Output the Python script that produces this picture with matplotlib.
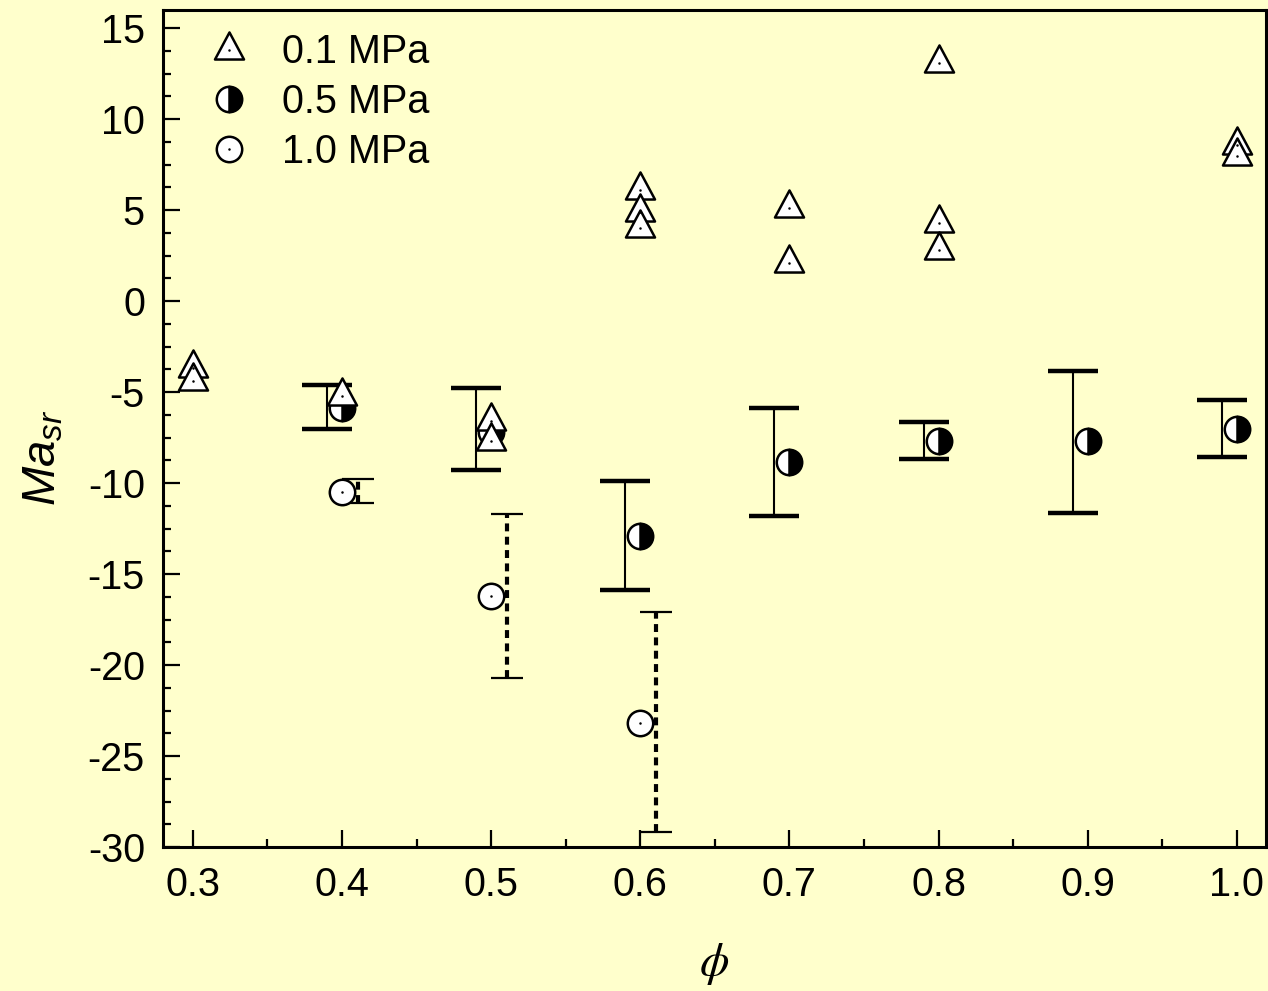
import numpy as np
import matplotlib
matplotlib.use('Agg')
import matplotlib.pyplot as plt
from matplotlib.path import Path
from matplotlib.ticker import MultipleLocator
from matplotlib.legend_handler import HandlerTuple

plt.rcParams['font.family'] = ['Liberation Sans', 'DejaVu Sans']
plt.rcParams['axes.unicode_minus'] = False
plt.rcParams['mathtext.fontset'] = 'custom'
plt.rcParams['mathtext.rm'] = 'Liberation Sans'
plt.rcParams['mathtext.it'] = 'Liberation Sans:italic'

# 0.1 MPa
phi_01 = [0.3, 0.3, 0.4, 0.5, 0.5, 0.6, 0.6, 0.6, 0.7, 0.7, 0.8, 0.8, 0.8, 1.0, 1.0]
ma_01 = [-3.7, -4.4, -5.2, -6.6, -7.7, 6.1, 4.9, 4.0, 5.1, 2.1, 13.1, 4.3, 2.8, 8.6, 8.0]

# 0.5 MPa
phi_05 = [0.4, 0.5, 0.6, 0.7, 0.8, 0.9, 1.0]
ma_05 = [-5.9, -7.2, -12.9, -8.85, -7.7, -7.7, -7.0]
hi_05 = [-4.6, -4.8, -9.9, -5.9, -6.65, -3.85, -5.45]
lo_05 = [-7.0, -9.3, -15.9, -11.8, -8.7, -11.65, -8.55]

# 1.0 MPa
phi_10 = [0.4, 0.5, 0.6]
ma_10 = [-10.5, -16.2, -23.2]
hi_10 = [-9.8, -11.7, -17.1]
lo_10 = [-11.1, -20.7, -29.2]

bg = '#FFFFCC'
fig = plt.figure(figsize=(12.68, 9.91), dpi=100, facecolor=bg)
ax = fig.add_axes([0.1285, 0.1453, 0.8699, 0.8446])
ax.set_facecolor(bg)

# triangle with centroid at the data point
tri = Path([(0, 2 / 3), (-0.536, -1 / 3), (0.536, -1 / 3), (0, 2 / 3)], closed=True)

# error bars, shifted a bit from the points
def draw_err(x, hi, lo, dx, dashed):
    x = np.array(x) + dx
    hi = np.array(hi)
    lo = np.array(lo)
    mid = (hi + lo) / 2
    if dashed:
        eb = ax.errorbar(x, mid, yerr=(hi - lo) / 2, fmt='none', ecolor='black',
                         elinewidth=3.0, capsize=11.5, capthick=1.6, zorder=2)
        eb[2][0].set_linestyle((0, (1.9, 1.3)))
        eb[2][0].set_linewidth(3.0)
    else:
        eb = ax.errorbar(x, mid, yerr=(hi - lo) / 2, fmt='none', ecolor='black',
                         elinewidth=1.5, capsize=18, capthick=3.2, zorder=2)

draw_err(phi_05, hi_05, lo_05, -0.01, False)
draw_err(phi_10, hi_10, lo_10, 0.0105, True)

l05, = ax.plot(phi_05, ma_05, linestyle='none', marker='o', ms=18.3, mew=1.8,
               mec='black', fillstyle='right', mfc='black', mfcalt='white', zorder=3)
l10, = ax.plot(phi_10, ma_10, linestyle='none', marker='o', ms=18.3, mew=1.8,
               mec='black', mfc='white', zorder=3)
d10, = ax.plot(phi_10, ma_10, linestyle='none', marker='o', ms=1.8, mew=0,
               color='black', zorder=3.1)
l01, = ax.plot(phi_01, ma_01, linestyle='none', marker=tri, ms=26, mew=1.8,
               mec='black', mfc='white', zorder=4)
d01, = ax.plot(phi_01, ma_01, linestyle='none', marker='o', ms=1.8, mew=0,
               color='black', zorder=4.1)

ax.set_xlim(0.28, 1.0195)
ax.set_ylim(-30, 16)
ax.xaxis.set_major_locator(MultipleLocator(0.1))
ax.xaxis.set_minor_locator(MultipleLocator(0.05))
ax.yaxis.set_major_locator(MultipleLocator(5))
ax.yaxis.set_minor_locator(MultipleLocator(1.25))
ax.xaxis.set_major_formatter(matplotlib.ticker.FormatStrFormatter('%.1f'))
ax.tick_params(which='both', direction='in', width=1.6, labelsize=28.5)
ax.tick_params(which='major', length=12)
ax.tick_params(which='minor', length=6)
ax.tick_params(axis='y', pad=13)
ax.tick_params(axis='x', pad=14)
for s in ax.spines.values():
    s.set_linewidth(2.2)

ax.set_ylabel('$\\mathit{Ma}_{\\mathit{sr}}$', fontsize=34)
ax.yaxis.set_label_coords(-0.088, 0.465)
ax.set_xlabel('$\\phi$', fontsize=34, labelpad=26, math_fontfamily='stix')

ax.legend([(l01, d01), (l05,), (l10, d10)], ['0.1 MPa', '0.5 MPa', '1.0 MPa'],
          handler_map={tuple: HandlerTuple(ndivide=1)},
          loc='upper left', bbox_to_anchor=(0.035, 0.972), borderaxespad=0,
          borderpad=0, frameon=False, fontsize=28.5, handlelength=1.4,
          handletextpad=0.62, labelspacing=0.3)

fig.savefig('out.png', dpi=100, facecolor=bg)
